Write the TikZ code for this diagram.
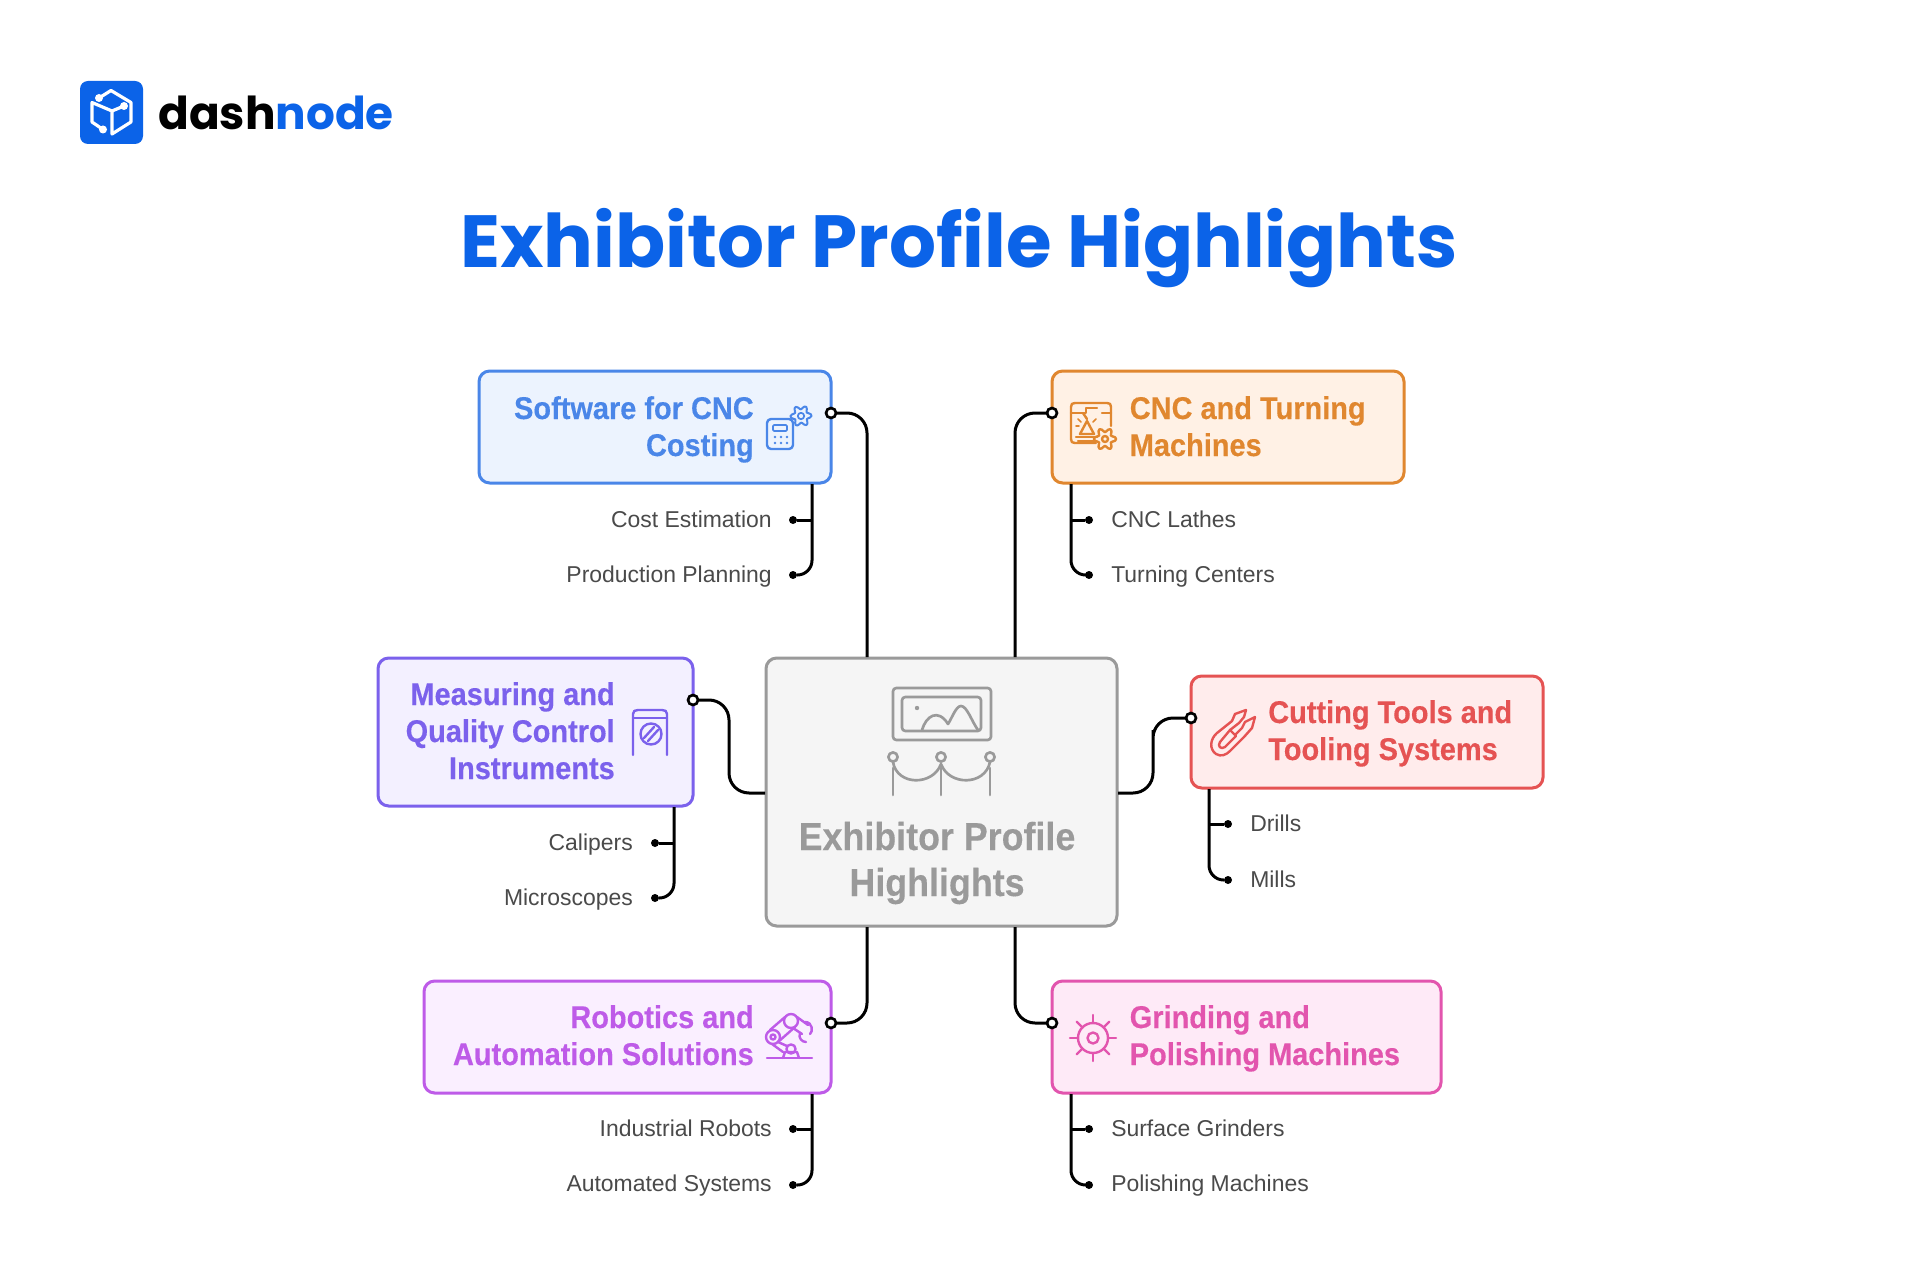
\documentclass[tikz,border=0pt]{standalone}
\usepackage{fontspec}
\setmainfont{Liberation Sans}[BoldFeatures={FakeStretch=0.92,FakeBold=0.3}]
\newfontfamily\brandfont{Poppins}
\definecolor{brand}{HTML}{0B63E8}
\definecolor{swc}{HTML}{4A86E8}\definecolor{swf}{HTML}{ECF3FE}
\definecolor{cnc}{HTML}{E0872F}\definecolor{cnf}{HTML}{FFF1E5}
\definecolor{ctc}{HTML}{9A9A9A}\definecolor{ctf}{HTML}{F5F5F5}
\definecolor{mqc}{HTML}{7B61EC}\definecolor{mqf}{HTML}{F3F0FF}
\definecolor{cuc}{HTML}{E55353}\definecolor{cuf}{HTML}{FFECEC}
\definecolor{roc}{HTML}{BE5BE8}\definecolor{rof}{HTML}{FAEFFF}
\definecolor{grc}{HTML}{E255AE}\definecolor{grf}{HTML}{FEEAF7}
\definecolor{kidtext}{HTML}{4A4A4A}
\tikzset{
  boxnode/.style n args={4}{draw=#3,fill=#4,line width=2.25pt,rounded corners=8pt,inner sep=0pt,outer sep=0pt,minimum width=#1*0.75pt,minimum height=#2*0.75pt},
  lab/.style={inner sep=0pt,font=\bfseries\fontsize{23.6}{27.75}\selectfont},
  kid/.style={inner sep=0pt,text=kidtext,font=\fontsize{17.2}{20}\selectfont},
  wire/.style={draw=black,line width=2.25pt,rounded corners=15pt},
  kidwire/.style={draw=black,line width=2.25pt,rounded corners=11pt},
  opendot/.style={circle,draw=black,fill=white,line width=2pt,minimum size=7.5pt,inner sep=0pt,outer sep=0pt},
  tipdot/.style={circle,fill=black,minimum size=6pt,inner sep=0pt,outer sep=0pt},
  ico/.style={line width=1.8pt,line cap=round,line join=round,fill=none},
}
\begin{document}
\begin{tikzpicture}[x=0.75pt,y=-0.75pt]
\useasboundingbox (0,0) rectangle (1920,1280);
\fill[white] (0,0) rectangle (1920,1280);

% logo
\node[draw=none,fill=brand,rounded corners=6pt,minimum width=47.25pt,minimum height=47.25pt,inner sep=0pt] (logomark) at (111.5,112.5) {};
\draw[white,line width=2.4pt,line join=round,line cap=round]
  (99,98) -- (111,90.5) -- (131,102.5) -- (131,122) -- (112,134) -- (112,111) -- (124,106)
  (112,111) -- (92,102.5) -- (92,122) -- (103,129.5);
\fill[white] (99,98) circle[radius=4] (124,106) circle[radius=4] (103,129.5) circle[radius=4];
\node[inner sep=0pt,anchor=base west,font=\brandfont\bfseries\fontsize{34}{40}\selectfont] (brandname) at (158,130) {dash\textcolor{brand}{node}};
\node[inner sep=0pt,anchor=base,text=brand,font=\brandfont\bfseries\fontsize{55.4}{60}\selectfont] (maintitle) at (959,268) {Exhibitor Profile Highlights};

% boxes
\node[boxnode={352}{112}{swc}{swf}] (sw) at (655,427) {};
\node[boxnode={352}{112}{cnc}{cnf}] (cn) at (1228,427) {};
\node[boxnode={351}{268}{ctc}{ctf}] (ct) at (941.5,792) {};
\node[boxnode={315}{148}{mqc}{mqf}] (mq) at (535.5,732) {};
\node[boxnode={352}{112}{cuc}{cuf}] (cu) at (1367,732) {};
\node[boxnode={407}{112}{roc}{rof}] (ro) at (627.5,1037) {};
\node[boxnode={389}{112}{grc}{grf}] (gr) at (1246.5,1037) {};

% box labels
\node[lab,text=swc,anchor=base east,align=right] (swt) at (754,456) {Software for CNC\\Costing};
\node[lab,text=cnc,anchor=base west,align=left] (cnt) at (1129.5,456) {CNC and Turning\\Machines};
\node[lab,text=mqc,anchor=base east,align=right] (mqt) at (615,779) {Measuring and\\Quality Control\\Instruments};
\node[lab,text=cuc,anchor=base west,align=left] (cut) at (1268,760) {Cutting Tools and\\Tooling Systems};
\node[lab,text=roc,anchor=base east,align=right] (rot) at (754,1065) {Robotics and\\Automation Solutions};
\node[lab,text=grc,anchor=base west,align=left] (grt) at (1129.5,1065) {Grinding and\\Polishing Machines};
\node[inner sep=0pt,text=ctc,anchor=base,align=center,font=\bfseries\fontsize{29.2}{34.5}\selectfont] (ctt) at (937,896) {Exhibitor Profile\\Highlights};

% child labels
\node[kid,anchor=base east] (k1a) at (772,527) {Cost Estimation};
\node[kid,anchor=base east] (k1b) at (772,582) {Production Planning};
\node[kid,anchor=base west] (k2a) at (1111,527) {CNC Lathes};
\node[kid,anchor=base west] (k2b) at (1111,582) {Turning Centers};
\node[kid,anchor=base east] (k3a) at (633,850) {Calipers};
\node[kid,anchor=base east] (k3b) at (633,905) {Microscopes};
\node[kid,anchor=base west] (k4a) at (1250,831) {Drills};
\node[kid,anchor=base west] (k4b) at (1250,887) {Mills};
\node[kid,anchor=base east] (k5a) at (772,1136) {Industrial Robots};
\node[kid,anchor=base east] (k5b) at (772,1191) {Automated Systems};
\node[kid,anchor=base west] (k6a) at (1111,1136) {Surface Grinders};
\node[kid,anchor=base west] (k6b) at (1111,1191) {Polishing Machines};

% dots
\node[opendot] (swd) at (831,413) {};
\node[opendot] (cnd) at (1052,413) {};
\node[opendot] (mqd) at (693,700) {};
\node[opendot] (cud) at (1191,718) {};
\node[opendot] (rod) at (831,1023) {};
\node[opendot] (grd) at (1052,1023) {};
\node[tipdot] (d1a) at (793,520) {};
\node[tipdot] (d1b) at (793,575) {};
\node[tipdot] (d2a) at (1089,520) {};
\node[tipdot] (d2b) at (1089,575) {};
\node[tipdot] (d3a) at (655,843) {};
\node[tipdot] (d3b) at (655,898) {};
\node[tipdot] (d4a) at (1228,824) {};
\node[tipdot] (d4b) at (1228,880) {};
\node[tipdot] (d5a) at (793,1129) {};
\node[tipdot] (d5b) at (793,1185) {};
\node[tipdot] (d6a) at (1089,1129) {};
\node[tipdot] (d6b) at (1089,1185) {};

% anchor points on the box borders
\coordinate (ctA) at (867,657);
\coordinate (ctB) at (1015,657);
\coordinate (ctC) at (867,927);
\coordinate (ctD) at (1015,927);
\coordinate (ctL) at (765,793);
\coordinate (ctR) at (1118,793);
\coordinate (mqM) at (729,750);
\coordinate (cuM) at (1153,750);
\coordinate (swT) at (812,484);
\coordinate (cnT) at (1071,484);
\coordinate (mqT) at (674,807);
\coordinate (cuT) at (1209,789);
\coordinate (roT) at (812,1094);
\coordinate (grT) at (1071,1094);

% connectors
\draw[wire] (swd) -| (ctA);
\draw[wire] (cnd) -| (ctB);
\draw[wire] (rod) -| (ctC);
\draw[wire] (grd) -| (ctD);
\draw[wire] (mqd) -| (mqM) |- (ctL);
\draw[wire] (cud) -| (cuM) |- (ctR);
\draw[kidwire] (swT) |- (d1b);
\draw[kidwire] (cnT) |- (d2b);
\draw[kidwire] (mqT) |- (d3b);
\draw[kidwire] (cuT) |- (d4b);
\draw[kidwire] (roT) |- (d5b);
\draw[kidwire] (grT) |- (d6b);
\draw[kidwire,rounded corners=0pt] (swT |- d1a) -- (d1a);
\draw[kidwire,rounded corners=0pt] (cnT |- d2a) -- (d2a);
\draw[kidwire,rounded corners=0pt] (mqT |- d3a) -- (d3a);
\draw[kidwire,rounded corners=0pt] (cuT |- d4a) -- (d4a);
\draw[kidwire,rounded corners=0pt] (roT |- d5a) -- (d5a);
\draw[kidwire,rounded corners=0pt] (grT |- d6a) -- (d6a);

% central icon
\begin{scope}[ico,draw=ctc,line width=2pt]
  \draw[rounded corners=2.5pt] (893,688) rectangle (991,740);
  \draw[rounded corners=2.5pt] (902,697) rectangle (981,731);
  \fill[ctc] (917,708) circle[radius=2.2];
  \draw (922,730) .. controls (926,716) and (938,708) .. (948,724) .. controls (952,718) and (956,706) .. (961,706) .. controls (967,706) and (972,722) .. (978,730);
  \draw (893,795) -- (893,768) (941,795) -- (941,768) (990,795) -- (990,768);
  \draw (893,757) circle[radius=4.6] (941,757) circle[radius=4.6] (990,757) circle[radius=4.6];
  \draw (893,762) .. controls (897,786) and (933,786) .. (941,764) .. controls (949,786) and (985,786) .. (990,762);
\end{scope}

% software icon
\begin{scope}[ico,draw=swc]
  \draw[rounded corners=3pt] (767,419) rectangle (793,449);
  \draw[rounded corners=0.8pt,line width=1.3pt] (773,425) rectangle (787,431);
  \foreach \xx in {775,781,787}{\foreach \yy in {437,443}{\fill[swc] (\xx,\yy) circle[radius=1.3];}}
  \draw[line width=1.5pt] plot[smooth cycle,samples=36,domain=0:350] ({801+(8.6+2*cos(6*\x+15))*cos(\x)},{416+(8.6+2*cos(6*\x+15))*sin(\x)});
  \draw[line width=1.3pt] (801,416) circle[radius=3.2];
\end{scope}

% cnc icon
\begin{scope}[ico,draw=cnc]
  \draw (1096,443) -- (1075,443) .. controls (1072,443) and (1071,442) .. (1071,439) -- (1071,407) .. controls (1071,404) and (1072,403) .. (1075,403) -- (1107,403) .. controls (1110,403) and (1111,404) .. (1111,407) -- (1111,426);
  \draw (1071,413) -- (1086,413) -- (1086,408) -- (1097,408) (1102,413) -- (1111,413);
  \draw (1083,413) -- (1087,419);
  \draw (1087,421) -- (1094,434) -- (1080,434) -- cycle;
  \draw (1076,437) -- (1097,437) (1078,441) -- (1095,441);
  \draw[line width=1.3pt] (1078,419) -- (1081,422) (1096,419) -- (1093,422) (1076,426) -- (1079,426);
  \draw plot[smooth cycle,samples=36,domain=0:350] ({1105+(9+2.2*cos(6*\x))*cos(\x)},{439+(9+2.2*cos(6*\x))*sin(\x)});
  \draw (1105,439) circle[radius=3];
\end{scope}

% measuring icon
\begin{scope}[ico,draw=mqc]
  \draw (633,755) -- (633,714) .. controls (633,711) and (635,710) .. (638,710) -- (662,710) .. controls (665,710) and (667,711) .. (667,714) -- (667,755);
  \draw (633,718) -- (667,718);
  \draw (651,734) circle[radius=10.5];
  \draw (644,738) -- (654,727) (648,741) -- (658,730);
\end{scope}

% cutting icon
\begin{scope}[ico,draw=cuc]
  \draw (1246,710) -- (1235,714) -- (1232,721) -- (1217,733) .. controls (1210,739) and (1209,749) .. (1216,754) .. controls (1221,757) and (1226,755) .. (1230,751) -- (1244,737) -- (1252,728) -- (1255,717) -- (1245,722) -- (1242,728) -- (1236,734);
  \draw (1246,710) -- (1244,717) -- (1239,723) -- (1230,730);
  \draw (1230,730) -- (1236,736) -- (1225,747) .. controls (1221,750) and (1217,746) .. (1220,742) -- cycle;
\end{scope}

% robot icon
\begin{scope}[ico,draw=roc]
  \draw (767,1058) -- (812,1058);
  \draw (783,1058) -- (785,1052) -- (797,1052) -- (799,1058);
  \draw (791,1049) circle[radius=4.6];
  \draw (773,1037) circle[radius=7];
  \draw (773,1037) circle[radius=2.5];
  \draw (791,1021) circle[radius=7];
  \draw (770,1030) -- (785,1017) (778,1042) -- (795,1027);
  \draw (778,1042) -- (787,1046) (772,1044) -- (783,1052);
  \draw (797,1017) -- (808,1025) (793,1028) -- (802,1034);
  \draw (805,1022) .. controls (813,1022) and (813,1032) .. (810,1034) (800,1033) .. controls (798,1038) and (802,1042) .. (806,1042);
\end{scope}

% grinding icon
\begin{scope}[ico,draw=grc,shift={(1093,1038)}]
  \draw (0,0) circle[radius=15];
  \draw (0,0) circle[radius=5.5];
  \foreach \a in {0,45,...,315}{\draw (\a:15) -- (\a:23);}
\end{scope}
\end{tikzpicture}
\end{document}
